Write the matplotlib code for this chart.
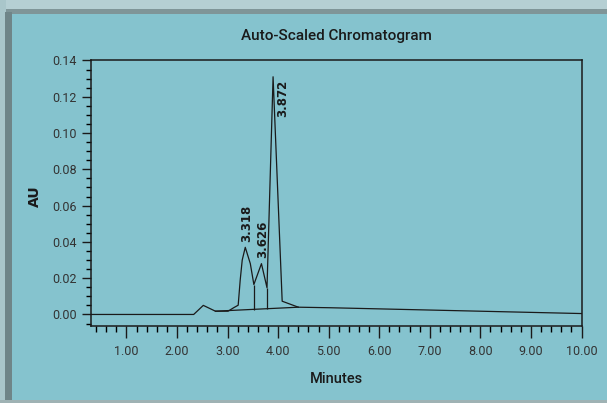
import matplotlib
matplotlib.use("Agg")
import matplotlib.pyplot as plt
from matplotlib.ticker import MultipleLocator, FormatStrFormatter
from matplotlib.patches import Rectangle

# trace (minutes, AU)
minutes = [0.30, 2.33, 2.52, 2.76, 3.01, 3.12, 3.21, 3.25, 3.29, 3.35, 3.45, 3.52,
           3.67, 3.78, 3.90, 4.08, 4.40, 5.03, 10.00]
au = [0.0, 0.0, 0.0050, 0.0018, 0.0018, 0.0037, 0.0051, 0.0190, 0.0300, 0.0370,
      0.0280, 0.0165, 0.0280, 0.0147, 0.1310, 0.0073, 0.0040, 0.0037, 0.0005]

# integration baseline and drop lines
base_x = [2.76, 4.40]
base_y = [0.0018, 0.0040]
drop_x = [3.52, 3.78]
drop_top = [0.0165, 0.0147]
drop_bot = [0.0027, 0.0031]

# peak labels
peak_names = ["3.318", "3.626", "3.872"]
peak_x = [3.37, 3.70, 4.10]
peak_y = [0.040, 0.031, 0.1295]
peak_va = ["bottom", "bottom", "top"]

bg = "#85c3ce"
narrow = ["Roboto", "DejaVu Sans"]

fig = plt.figure(figsize=(6.07, 4.03), dpi=100, facecolor=bg)

# frame decorations of the screenshot
fig.add_artist(Rectangle((0, 0.975), 1, 0.025, transform=fig.transFigure,
                         facecolor="#b5cfd3", edgecolor="none"))
fig.add_artist(Rectangle((0, 0.965), 1, 0.012, transform=fig.transFigure,
                         facecolor="#7f9598", edgecolor="none"))
fig.add_artist(Rectangle((0, 0), 0.010, 1, transform=fig.transFigure,
                         facecolor="#a9c6ca", edgecolor="none"))
fig.add_artist(Rectangle((0.008, 0), 0.012, 0.97, transform=fig.transFigure,
                         facecolor="#6f8588", edgecolor="none"))
fig.add_artist(Rectangle((0, 0), 1, 0.008, transform=fig.transFigure,
                         facecolor="#9fb2b4", edgecolor="none"))

ax = fig.add_axes([0.150, 0.190, 0.808, 0.660])
ax.set_facecolor(bg)

ax.plot(minutes, au, color="#1a1a1a", lw=0.9)
ax.plot(base_x, base_y, color="#1a1a1a", lw=0.9)
ax.vlines(drop_x, drop_bot, drop_top, color="#1a1a1a", lw=0.9)

for name, px, py, va in zip(peak_names, peak_x, peak_y, peak_va):
    ax.text(px, py, name, rotation=90, ha="center", va=va, fontsize=8.5,
            fontweight="bold", color="#1a1a1a")

ax.set_xlim(0.30, 10.0)
ax.set_ylim(-0.0066, 0.14)

ax.xaxis.set_major_locator(MultipleLocator(1))
ax.xaxis.set_minor_locator(MultipleLocator(0.2))
ax.yaxis.set_major_locator(MultipleLocator(0.02))
ax.yaxis.set_minor_locator(MultipleLocator(0.005))
ax.xaxis.set_major_formatter(FormatStrFormatter("%.2f"))
ax.yaxis.set_major_formatter(FormatStrFormatter("%.2f"))

ax.tick_params(axis="x", which="major", direction="out", length=8.5, width=1,
               pad=5, labelsize=9, colors="#1a1a1a")
ax.tick_params(axis="x", which="minor", direction="out", length=4.3, width=1)
ax.tick_params(axis="y", which="major", direction="out", length=6.3, width=1,
               pad=4, labelsize=9, colors="#1a1a1a")
ax.tick_params(axis="y", which="minor", direction="out", length=3.4, width=1)
for lab in ax.get_xticklabels() + ax.get_yticklabels():
    lab.set_family(narrow)
    lab.set_color("#333333")

for sp in ax.spines.values():
    sp.set_color("#1a1a1a")
    sp.set_linewidth(1.1)

ax.set_xlabel("Minutes", family=narrow, fontsize=10.5, fontweight="medium",
              labelpad=10, color="#1a1a1a")
ax.set_ylabel("AU", fontsize=10, fontweight="bold", color="#1a1a1a")
ax.yaxis.set_label_coords(-0.100, 0.49)
ax.set_title("Auto-Scaled Chromatogram", family=narrow, fontsize=11,
             fontweight="medium", pad=15, color="#1a1a1a")

fig.savefig("out.png", dpi=100, facecolor=bg)
